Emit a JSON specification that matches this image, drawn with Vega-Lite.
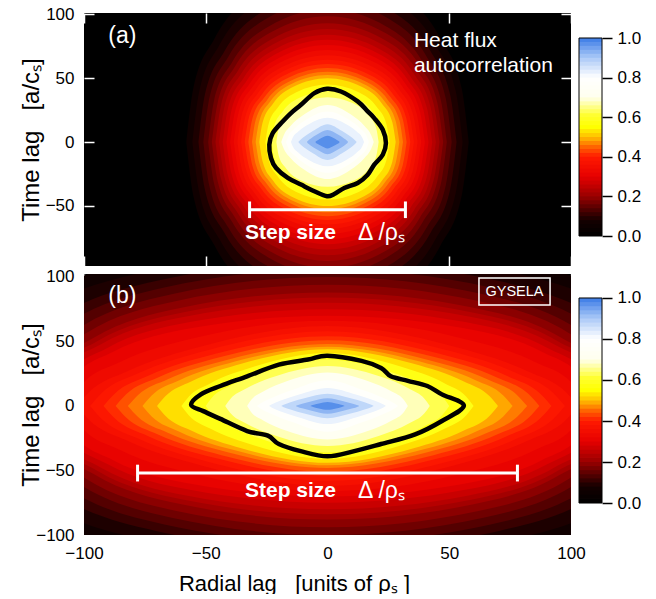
{
  "$schema": "https://vega.github.io/schema/vega-lite/v6.json",
  "padding": {"left": 18, "top": 5, "right": 0, "bottom": 0},
  "background": "white",
  "spacing": 0,
  "data": {"values": [{}]},
  "datasets": {
    "heatA": [
      {"l": 0.0625, "x": [-58,-55.1,-46.4,-29,0,29,46.4,55.1,58], "y": [0,42.1,81,116.9,135,116.9,81,42.1,0], "y2": [0,-42.1,-81,-116.9,-135,-116.9,-81,-42.1,0]},
      {"l": 0.0875, "x": [-55.5,-52.7,-44.4,-27.8,0,27.8,44.4,52.7,55.5], "y": [0,39.5,75.9,109.5,126.5,109.5,75.9,39.5,0], "y2": [0,-39.5,-75.9,-109.5,-126.5,-109.5,-75.9,-39.5,0]},
      {"l": 0.1125, "x": [-53,-50.4,-42.4,-26.5,0,26.5,42.4,50.4,53], "y": [0,36.8,70.8,102.2,118,102.2,70.8,36.8,0], "y2": [0,-36.8,-70.8,-102.2,-118,-102.2,-70.8,-36.8,0]},
      {"l": 0.1375, "x": [-51,-48.5,-40.8,-25.5,0,25.5,40.8,48.5,51], "y": [0,34.6,66.6,96.1,111,96.1,66.6,34.6,0], "y2": [0,-34.6,-66.6,-96.1,-111,-96.1,-66.6,-34.6,0]},
      {"l": 0.1625, "x": [-49,-46.6,-39.2,-24.5,0,24.5,39.2,46.6,49], "y": [0,32.4,62.4,90.1,104,90.1,62.4,32.4,0], "y2": [0,-32.4,-62.4,-90.1,-104,-90.1,-62.4,-32.4,0]},
      {"l": 0.1875, "x": [-47.5,-45.1,-38,-23.8,0,23.8,38,45.1,47.5], "y": [0,30.7,59.1,85.3,98.5,85.3,59.1,30.7,0], "y2": [0,-30.7,-59.1,-85.3,-98.5,-85.3,-59.1,-30.7,0]},
      {"l": 0.2125, "x": [-46,-43.7,-36.8,-23,0,23,36.8,43.7,46], "y": [0,29,55.8,80.5,93,80.5,55.8,29,0], "y2": [0,-29,-55.8,-80.5,-93,-80.5,-55.8,-29,0]},
      {"l": 0.2375, "x": [-44.5,-42.3,-35.6,-22.3,0,22.3,35.6,42.3,44.5], "y": [0,27.6,53.1,76.6,88.5,76.6,53.1,27.6,0], "y2": [0,-27.6,-53.1,-76.6,-88.5,-76.6,-53.1,-27.6,0]},
      {"l": 0.2625, "x": [-43,-40.9,-34.4,-21.5,0,21.5,34.4,40.9,43], "y": [0,26.2,50.4,72.7,84,72.7,50.4,26.2,0], "y2": [0,-26.2,-50.4,-72.7,-84,-72.7,-50.4,-26.2,0]},
      {"l": 0.2875, "x": [-41.5,-39.4,-33.2,-20.8,0,20.8,33.2,39.4,41.5], "y": [0,25,48,69.3,80,69.3,48,25,0], "y2": [0,-25,-48,-69.3,-80,-69.3,-48,-25,0]},
      {"l": 0.3125, "x": [-40,-38,-32,-20,0,20,32,38,40], "y": [0,23.7,45.6,65.8,76,65.8,45.6,23.7,0], "y2": [0,-23.7,-45.6,-65.8,-76,-65.8,-45.6,-23.7,0]},
      {"l": 0.3375, "x": [-38.5,-36.6,-30.8,-19.3,0,19.3,30.8,36.6,38.5], "y": [0,22.5,43.2,62.4,72,62.4,43.2,22.5,0], "y2": [0,-22.5,-43.2,-62.4,-72,-62.4,-43.2,-22.5,0]},
      {"l": 0.3625, "x": [-37,-35.2,-29.6,-18.5,0,18.5,29.6,35.2,37], "y": [0,21.2,40.8,58.9,68,58.9,40.8,21.2,0], "y2": [0,-21.2,-40.8,-58.9,-68,-58.9,-40.8,-21.2,0]},
      {"l": 0.3875, "x": [-35.5,-33.7,-28.4,-17.8,0,17.8,28.4,33.7,35.5], "y": [0,20.1,38.7,55.9,64.5,55.9,38.7,20.1,0], "y2": [0,-20.1,-38.7,-55.9,-64.5,-55.9,-38.7,-20.1,0]},
      {"l": 0.4125, "x": [-34,-32.3,-27.2,-17,0,17,27.2,32.3,34], "y": [0,19,36.6,52.8,61,52.8,36.6,19,0], "y2": [0,-19,-36.6,-52.8,-61,-52.8,-36.6,-19,0]},
      {"l": 0.4375, "x": [-32.5,-30.9,-26,-16.3,0,16.3,26,30.9,32.5], "y": [0,18.1,34.8,50.2,58,50.2,34.8,18.1,0], "y2": [0,-18.1,-34.8,-50.2,-58,-50.2,-34.8,-18.1,0]},
      {"l": 0.4625, "x": [-31,-29.5,-24.8,-15.5,0,15.5,24.8,29.5,31], "y": [0,17.2,33,47.6,55,47.6,33,17.2,0], "y2": [0,-17.2,-33,-47.6,-55,-47.6,-33,-17.2,0]},
      {"l": 0.4875, "x": [-29.5,-28,-23.6,-14.8,0,14.8,23.6,28,29.5], "y": [0,16.4,31.5,45.5,52.5,45.5,31.5,16.4,0], "y2": [0,-16.4,-31.5,-45.5,-52.5,-45.5,-31.5,-16.4,0]},
      {"l": 0.525, "x": [-28,-26.6,-22.4,-14,0,14,22.4,26.6,28], "y": [0,15.6,30,43.3,50,43.3,30,15.6,0], "y2": [0,-15.6,-30,-43.3,-50,-43.3,-30,-15.6,0]},
      {"l": 0.575, "x": [-25.5,-24.2,-20.4,-12.8,0,12.8,20.4,24.2,25.5], "y": [0,14,27,39,45,39,27,14,0], "y2": [0,-14,-27,-39,-45,-39,-27,-14,0]},
      {"l": 0.625, "x": [-23,-21.9,-18.4,-11.5,0,11.5,18.4,21.9,23], "y": [0,12.5,24,34.6,40,34.6,24,12.5,0], "y2": [0,-12.5,-24,-34.6,-40,-34.6,-24,-12.5,0]},
      {"l": 0.675, "x": [-21,-20,-16.8,-10.5,0,10.5,16.8,20,21], "y": [0,10.9,21,30.3,35,30.3,21,10.9,0], "y2": [0,-10.9,-21,-30.3,-35,-30.3,-21,-10.9,0]},
      {"l": 0.725, "x": [-19,-18,-15.2,-9.5,0,9.5,15.2,18,19], "y": [0,5.1,12.5,21.7,29,21.7,12.5,5.1,0], "y2": [0,-5.1,-12.5,-21.7,-29,-21.7,-12.5,-5.1,0]},
      {"l": 0.775, "x": [-17,-16.2,-13.6,-8.5,0,8.5,13.6,16.2,17], "y": [0,4.2,10.4,17.9,24,17.9,10.4,4.2,0], "y2": [0,-4.2,-10.4,-17.9,-24,-17.9,-10.4,-4.2,0]},
      {"l": 0.825, "x": [-15,-14.3,-12,-7.5,0,7.5,12,14.3,15], "y": [0,3.3,8.2,14.2,19,14.2,8.2,3.3,0], "y2": [0,-3.3,-8.2,-14.2,-19,-14.2,-8.2,-3.3,0]},
      {"l": 0.875, "x": [-12,-11.4,-9.6,-6,0,6,9.6,11.4,12], "y": [0,1.3,4.2,8.7,14,8.7,4.2,1.3,0], "y2": [0,-1.3,-4.2,-8.7,-14,-8.7,-4.2,-1.3,0]},
      {"l": 0.925, "x": [-8.5,-8.1,-6.8,-4.3,0,4.3,6.8,8.1,8.5], "y": [0,0.9,2.8,5.9,9.5,5.9,2.8,0.9,0], "y2": [0,-0.9,-2.8,-5.9,-9.5,-5.9,-2.8,-0.9,0]},
      {"l": 0.975, "x": [-5,-4.8,-4,-2.5,0,2.5,4,4.8,5], "y": [0,0.5,1.5,3.1,5,3.1,1.5,0.5,0], "y2": [0,-0.5,-1.5,-3.1,-5,-3.1,-1.5,-0.5,0]}
    ],
    "heatB": [
      {"l": 0.0625, "x": [-160,-152,-128,-80,0,80,128,152,160], "y": [0,39.9,76.8,110.8,128,110.8,76.8,39.9,0], "y2": [0,-39.9,-76.8,-110.8,-128,-110.8,-76.8,-39.9,0]},
      {"l": 0.0875, "x": [-150,-142.5,-120,-75,0,75,120,142.5,150], "y": [0,37.4,72,103.9,120,103.9,72,37.4,0], "y2": [0,-37.4,-72,-103.9,-120,-103.9,-72,-37.4,0]},
      {"l": 0.1125, "x": [-140,-133,-112,-70,0,70,112,133,140], "y": [0,34.9,67.2,97,112,97,67.2,34.9,0], "y2": [0,-34.9,-67.2,-97,-112,-97,-67.2,-34.9,0]},
      {"l": 0.1375, "x": [-134,-127.3,-107.2,-67,0,67,107.2,127.3,134], "y": [0,33.1,63.6,91.8,106,91.8,63.6,33.1,0], "y2": [0,-33.1,-63.6,-91.8,-106,-91.8,-63.6,-33.1,0]},
      {"l": 0.1625, "x": [-128,-121.6,-102.4,-64,0,64,102.4,121.6,128], "y": [0,31.2,60,86.6,100,86.6,60,31.2,0], "y2": [0,-31.2,-60,-86.6,-100,-86.6,-60,-31.2,0]},
      {"l": 0.1875, "x": [-124,-117.8,-99.2,-62,0,62,99.2,117.8,124], "y": [0,29.3,56.4,81.4,94,81.4,56.4,29.3,0], "y2": [0,-29.3,-56.4,-81.4,-94,-81.4,-56.4,-29.3,0]},
      {"l": 0.2125, "x": [-120,-114,-96,-60,0,60,96,114,120], "y": [0,27.5,52.8,76.2,88,76.2,52.8,27.5,0], "y2": [0,-27.5,-52.8,-76.2,-88,-76.2,-52.8,-27.5,0]},
      {"l": 0.2375, "x": [-118,-112.1,-94.4,-59,0,59,94.4,112.1,118], "y": [0,26.2,50.4,72.7,84,72.7,50.4,26.2,0], "y2": [0,-26.2,-50.4,-72.7,-84,-72.7,-50.4,-26.2,0]},
      {"l": 0.2625, "x": [-116,-110.2,-92.8,-58,0,58,92.8,110.2,116], "y": [0,25,48,69.3,80,69.3,48,25,0], "y2": [0,-25,-48,-69.3,-80,-69.3,-48,-25,0]},
      {"l": 0.2875, "x": [-113,-107.4,-90.4,-56.5,0,56.5,90.4,107.4,113], "y": [0,23.4,45,65,75,65,45,23.4,0], "y2": [0,-23.4,-45,-65,-75,-65,-45,-23.4,0]},
      {"l": 0.3125, "x": [-110,-104.5,-88,-55,0,55,88,104.5,110], "y": [0,21.8,42,60.6,70,60.6,42,21.8,0], "y2": [0,-21.8,-42,-60.6,-70,-60.6,-42,-21.8,0]},
      {"l": 0.3375, "x": [-106.5,-101.2,-85.2,-53.3,0,53.3,85.2,101.2,106.5], "y": [0,16.1,34.1,53.3,66,53.3,34.1,16.1,0], "y2": [0,-16.1,-34.1,-53.3,-66,-53.3,-34.1,-16.1,0]},
      {"l": 0.3625, "x": [-103,-97.9,-82.4,-51.5,0,51.5,82.4,97.9,103], "y": [0,10.9,26.8,46.3,62,46.3,26.8,10.9,0], "y2": [0,-10.9,-26.8,-46.3,-62,-46.3,-26.8,-10.9,0]},
      {"l": 0.3875, "x": [-97.5,-92.6,-78,-48.8,0,48.8,78,92.6,97.5], "y": [0,10.2,25.1,43.4,58,43.4,25.1,10.2,0], "y2": [0,-10.2,-25.1,-43.4,-58,-43.4,-25.1,-10.2,0]},
      {"l": 0.4125, "x": [-92,-87.4,-73.6,-46,0,46,73.6,87.4,92], "y": [0,9.5,23.4,40.4,54,40.4,23.4,9.5,0], "y2": [0,-9.5,-23.4,-40.4,-54,-40.4,-23.4,-9.5,0]},
      {"l": 0.4375, "x": [-87,-82.7,-69.6,-43.5,0,43.5,69.6,82.7,87], "y": [0,9,22.1,38.1,51,38.1,22.1,9,0], "y2": [0,-9,-22.1,-38.1,-51,-38.1,-22.1,-9,0]},
      {"l": 0.4625, "x": [-82,-77.9,-65.6,-41,0,41,65.6,77.9,82], "y": [0,8.4,20.8,35.9,48,35.9,20.8,8.4,0], "y2": [0,-8.4,-20.8,-35.9,-48,-35.9,-20.8,-8.4,0]},
      {"l": 0.4875, "x": [-76,-72.2,-60.8,-38,0,38,60.8,72.2,76], "y": [0,8.1,19.9,34.4,46,34.4,19.9,8.1,0], "y2": [0,-8.1,-19.9,-34.4,-46,-34.4,-19.9,-8.1,0]},
      {"l": 0.525, "x": [-70,-66.5,-56,-35,0,35,56,66.5,70], "y": [0,7.7,19,32.9,44,32.9,19,7.7,0], "y2": [0,-7.7,-19,-32.9,-44,-32.9,-19,-7.7,0]},
      {"l": 0.575, "x": [-60,-57,-48,-30,0,30,48,57,60], "y": [0,7.2,17.7,30.6,41,30.6,17.7,7.2,0], "y2": [0,-7.2,-17.7,-30.6,-41,-30.6,-17.7,-7.2,0]},
      {"l": 0.625, "x": [-50,-47.5,-40,-25,0,25,40,47.5,50], "y": [0,6.3,15.6,26.9,36,26.9,15.6,6.3,0], "y2": [0,-6.3,-15.6,-26.9,-36,-26.9,-15.6,-6.3,0]},
      {"l": 0.675, "x": [-42,-39.9,-33.6,-21,0,21,33.6,39.9,42], "y": [0,5.5,13.4,23.2,31,23.2,13.4,5.5,0], "y2": [0,-5.5,-13.4,-23.2,-31,-23.2,-13.4,-5.5,0]},
      {"l": 0.725, "x": [-33,-31.4,-26.4,-16.5,0,16.5,26.4,31.4,33], "y": [0,4.6,11.2,19.4,26,19.4,11.2,4.6,0], "y2": [0,-4.6,-11.2,-19.4,-26,-19.4,-11.2,-4.6,0]},
      {"l": 0.775, "x": [-29,-27.6,-23.2,-14.5,0,14.5,23.2,27.6,29], "y": [0,1.9,6,12.4,20,12.4,6,1.9,0], "y2": [0,-1.9,-6,-12.4,-20,-12.4,-6,-1.9,0]},
      {"l": 0.825, "x": [-24,-22.8,-19.2,-12,0,12,19.2,22.8,24], "y": [0,1.3,4.2,8.7,14,8.7,4.2,1.3,0], "y2": [0,-1.3,-4.2,-8.7,-14,-8.7,-4.2,-1.3,0]},
      {"l": 0.875, "x": [-19,-18,-15.2,-9.5,0,9.5,15.2,18,19], "y": [0,0.9,2.8,5.9,9.5,5.9,2.8,0.9,0], "y2": [0,-0.9,-2.8,-5.9,-9.5,-5.9,-2.8,-0.9,0]},
      {"l": 0.925, "x": [-13,-12.4,-10.4,-6.5,0,6.5,10.4,12.4,13], "y": [0,0.6,1.8,3.7,6,3.7,1.8,0.6,0], "y2": [0,-0.6,-1.8,-3.7,-6,-3.7,-1.8,-0.6,0]},
      {"l": 0.975, "x": [-7,-6.7,-5.6,-3.5,0,3.5,5.6,6.7,7], "y": [0,0.3,0.9,1.9,3,1.9,0.9,0.3,0], "y2": [0,-0.3,-0.9,-1.9,-3,-1.9,-0.9,-0.3,0]}
    ],
    "contA": [
      {"x": [-0.2,5.5,12.4,16.5,19.2,22.7,24,22.7,19.2,16.5,12.4,6.9,2.8,-0.2,-5.4,-10.9,-16.3,-21.1,-23.2,-23.9,-22.5,-18.4,-15,-10.9,-5.4],
       "y": [41.7,39.6,31.8,24,18.75,9.6,-0.8,-9.9,-17.7,-25.5,-32,-36,-40.6,-42.4,-38.5,-33.3,-28.1,-20.3,-12.5,-2.1,7,16.1,22.7,29.2,38.3],
       "i": [0,1,2,3,4,5,6,7,8,9,10,11,12,13,14,15,16,17,18,19,20,21,22,23,24]}
    ],
    "contB": [
      {"x": [-56,-52,-44,-33,-20,-8,0,14,22,26,33,41,47,56,47,36,22,11,0,-11,-20,-24.5,-33,-44,-51],
       "y": [0.8,9,15.5,23,32,36,39,35,29.5,23,19.5,15.5,9,0.3,-11.6,-22,-29.5,-35,-39,-35,-29.5,-23,-19.4,-10,-4],
       "i": [0,1,2,3,4,5,6,7,8,9,10,11,12,13,14,15,16,17,18,19,20,21,22,23,24]}
    ],
    "bar": [
      {"a":0,"b":0.024,"c":0.01},{"a":0.02,"b":0.044,"c":0.03},{"a":0.04,"b":0.064,"c":0.05},{"a":0.06,"b":0.084,"c":0.07},{"a":0.08,"b":0.104,"c":0.09},
      {"a":0.1,"b":0.124,"c":0.11},{"a":0.12,"b":0.144,"c":0.13},{"a":0.14,"b":0.164,"c":0.15},{"a":0.16,"b":0.184,"c":0.17},{"a":0.18,"b":0.204,"c":0.19},
      {"a":0.2,"b":0.224,"c":0.21},{"a":0.22,"b":0.244,"c":0.23},{"a":0.24,"b":0.264,"c":0.25},{"a":0.26,"b":0.284,"c":0.27},{"a":0.28,"b":0.304,"c":0.29},
      {"a":0.3,"b":0.324,"c":0.31},{"a":0.32,"b":0.344,"c":0.33},{"a":0.34,"b":0.364,"c":0.35},{"a":0.36,"b":0.384,"c":0.37},{"a":0.38,"b":0.404,"c":0.39},
      {"a":0.4,"b":0.424,"c":0.41},{"a":0.42,"b":0.444,"c":0.43},{"a":0.44,"b":0.464,"c":0.45},{"a":0.46,"b":0.484,"c":0.47},{"a":0.48,"b":0.504,"c":0.49},
      {"a":0.5,"b":0.524,"c":0.51},{"a":0.52,"b":0.544,"c":0.53},{"a":0.54,"b":0.564,"c":0.55},{"a":0.56,"b":0.584,"c":0.57},{"a":0.58,"b":0.604,"c":0.59},
      {"a":0.6,"b":0.624,"c":0.61},{"a":0.62,"b":0.644,"c":0.63},{"a":0.64,"b":0.664,"c":0.65},{"a":0.66,"b":0.684,"c":0.67},{"a":0.68,"b":0.704,"c":0.69},
      {"a":0.7,"b":0.724,"c":0.71},{"a":0.72,"b":0.744,"c":0.73},{"a":0.74,"b":0.764,"c":0.75},{"a":0.76,"b":0.784,"c":0.77},{"a":0.78,"b":0.804,"c":0.79},
      {"a":0.8,"b":0.824,"c":0.81},{"a":0.82,"b":0.844,"c":0.83},{"a":0.84,"b":0.864,"c":0.85},{"a":0.86,"b":0.884,"c":0.87},{"a":0.88,"b":0.904,"c":0.89},
      {"a":0.9,"b":0.924,"c":0.91},{"a":0.92,"b":0.944,"c":0.93},{"a":0.94,"b":0.964,"c":0.95},{"a":0.96,"b":0.984,"c":0.97},{"a":0.98,"b":1,"c":0.99}
    ]
  },
  "vconcat": [
    {
      "spacing": 8,
      "bounds": "flush",
      "hconcat": [
        {
          "width": 487,
          "height": 253,
          "view": {"fill": "black", "stroke": null},
          "layer": [
            {
              "data": {"name": "heatA"},
              "transform": [{"flatten": ["x", "y", "y2"]}],
              "mark": {"type": "area", "interpolate": "monotone", "clip": true},
              "encoding": {
                "x": {"field": "x", "type": "quantitative", "scale": {"domain": [-100, 100], "nice": false, "zero": false},
                      "axis": {"orient": "bottom", "values": [-100, -50, 0, 50, 100], "labels": false, "title": null}},
                "y": {"field": "y", "type": "quantitative", "stack": null, "scale": {"domain": [-97, 101], "nice": false, "zero": false},
                      "axis": {"orient": "left", "values": [-50, 0, 50, 100], "title": "Time lag\u00a0\u00a0\u00a0[a/cₛ]", "titleX": -53, "titleY": 126.5, "titleBaseline": "middle"}},
                "y2": {"field": "y2"},
                "color": {"field": "l", "type": "quantitative", "legend": null,
                          "scale": {"type": "linear", "interpolate": "rgb",
                                    "domain": [0, 0.08, 0.2, 0.3, 0.4, 0.45, 0.5, 0.55, 0.61, 0.7, 0.8, 0.9, 1],
                                    "range": ["#000000", "#150000", "#990000", "#e60000", "#ff1a00", "#ff6400", "#ffbe00", "#ffff00", "#ffff30", "#ffffee", "#ffffff", "#aac9f7", "#3b7be6"]}}
              }
            },
            {
              "data": {"name": "contA"},
              "transform": [{"flatten": ["x", "y", "i"]}],
              "mark": {"type": "line", "interpolate": "cardinal-closed", "color": "black", "strokeWidth": 4.5, "clip": true},
              "encoding": {
                "x": {"field": "x", "type": "quantitative", "axis": {"orient": "top", "values": [-100, -50, 0, 50, 100], "labels": false, "title": null}},
                "y": {"field": "y", "type": "quantitative", "axis": {"orient": "right", "values": [-50, 0, 50, 100], "labels": false, "title": null}},
                "order": {"field": "i"}
              }
            },
            {
              "mark": {"type": "text", "text": "(a)", "color": "white", "fontSize": 23, "align": "left", "baseline": "middle"},
              "encoding": {"x": {"datum": -90, "type": "quantitative", "axis": null}, "y": {"datum": 83, "type": "quantitative", "axis": null}}
            },
            {
              "mark": {"type": "text", "text": "Heat flux", "color": "white", "fontSize": 21, "align": "left", "baseline": "middle"},
              "encoding": {"x": {"datum": 35.5, "type": "quantitative", "axis": null}, "y": {"datum": 79, "type": "quantitative", "axis": null}}
            },
            {
              "mark": {"type": "text", "text": "autocorrelation", "color": "white", "fontSize": 21, "align": "left", "baseline": "middle"},
              "encoding": {"x": {"datum": 35.5, "type": "quantitative", "axis": null}, "y": {"datum": 59.4, "type": "quantitative", "axis": null}}
            },
            {
              "mark": {"type": "rule", "color": "white", "strokeWidth": 3},
              "encoding": {"x": {"datum": -32, "type": "quantitative", "axis": null}, "x2": {"datum": 32}, "y": {"datum": -53, "type": "quantitative", "axis": null}}
            },
            {
              "mark": {"type": "rule", "color": "white", "strokeWidth": 3},
              "encoding": {"x": {"datum": -32, "type": "quantitative", "axis": null}, "y": {"datum": -59.5, "type": "quantitative", "axis": null}, "y2": {"datum": -46.5}}
            },
            {
              "mark": {"type": "rule", "color": "white", "strokeWidth": 3},
              "encoding": {"x": {"datum": 32, "type": "quantitative", "axis": null}, "y": {"datum": -59.5, "type": "quantitative", "axis": null}, "y2": {"datum": -46.5}}
            },
            {
              "mark": {"type": "text", "text": "Step size", "color": "white", "fontSize": 21, "fontWeight": "bold", "align": "right", "baseline": "middle"},
              "encoding": {"x": {"datum": 3.5, "type": "quantitative", "axis": null}, "y": {"datum": -71, "type": "quantitative", "axis": null}}
            },
            {
              "mark": {"type": "text", "text": "Δ /ρₛ", "color": "white", "fontSize": 23, "align": "left", "baseline": "middle"},
              "encoding": {"x": {"datum": 12.5, "type": "quantitative", "axis": null}, "y": {"datum": -71, "type": "quantitative", "axis": null}}
            }
          ],
          "resolve": {"axis": {"x": "independent", "y": "independent"}}
        },
        {
          "width": 23,
          "height": 253,
          "view": {"fill": "white", "stroke": null},
          "layer": [
            {
              "data": {"name": "bar"},
              "mark": {"type": "rect"},
              "encoding": {
                "x": {"datum": 0, "type": "quantitative", "scale": {"domain": [0, 1], "nice": false}, "axis": null},
                "x2": {"datum": 1},
                "y": {"field": "a", "type": "quantitative", "scale": {"domain": [-0.1515, 1.1263], "nice": false, "zero": false},
                      "axis": {"orient": "right", "values": [0, 0.2, 0.4, 0.6, 0.8, 1], "format": ".1f", "title": null,
                               "tickColor": "black", "tickSize": 10, "tickWidth": 1.5, "labelPadding": 5}},
                "y2": {"field": "b"},
                "color": {"field": "c", "type": "quantitative", "legend": null,
                          "scale": {"type": "linear", "interpolate": "rgb",
                                    "domain": [0, 0.08, 0.2, 0.3, 0.4, 0.45, 0.5, 0.55, 0.61, 0.7, 0.8, 0.9, 1],
                                    "range": ["#000000", "#150000", "#990000", "#e60000", "#ff1a00", "#ff6400", "#ffbe00", "#ffff00", "#ffff30", "#ffffee", "#ffffff", "#aac9f7", "#3b7be6"]}}
              }
            },
            {
              "mark": {"type": "rect", "fill": null, "fillOpacity": 0, "stroke": "black", "strokeWidth": 1},
              "encoding": {"x": {"datum": 0, "type": "quantitative"}, "x2": {"datum": 1}, "y": {"datum": 0, "type": "quantitative"}, "y2": {"datum": 1}}
            }
          ]
        }
      ]
    },
    {
      "spacing": 8,
      "bounds": "flush",
      "hconcat": [
        {
          "width": 487,
          "height": 261,
          "view": {"fill": "black", "stroke": null},
          "layer": [
            {
              "data": {"name": "heatB"},
              "transform": [{"flatten": ["x", "y", "y2"]}],
              "mark": {"type": "area", "interpolate": "monotone", "clip": true},
              "encoding": {
                "x": {"field": "x", "type": "quantitative", "scale": {"domain": [-100, 100], "nice": false, "zero": false},
                      "axis": {"orient": "bottom", "values": [-100, -50, 0, 50, 100], "title": "Radial lag\u00a0\u00a0\u00a0[units of ρₛ\u00a0]",
                               "titleFontSize": 22, "titleX": 210, "titleY": 38, "titleBaseline": "top", "titleAlign": "center"}},
                "y": {"field": "y", "type": "quantitative", "stack": null, "scale": {"domain": [-100, 102.3], "nice": false, "zero": false},
                      "axis": {"orient": "left", "values": [-100, -50, 0, 50, 100], "title": "Time lag\u00a0\u00a0\u00a0[a/cₛ]", "titleX": -53, "titleY": 130.5, "titleBaseline": "middle"}},
                "y2": {"field": "y2"},
                "color": {"field": "l", "type": "quantitative", "legend": null,
                          "scale": {"type": "linear", "interpolate": "rgb",
                                    "domain": [0, 0.08, 0.2, 0.3, 0.4, 0.45, 0.5, 0.55, 0.61, 0.7, 0.8, 0.9, 1],
                                    "range": ["#000000", "#150000", "#990000", "#e60000", "#ff1a00", "#ff6400", "#ffbe00", "#ffff00", "#ffff30", "#ffffee", "#ffffff", "#aac9f7", "#3b7be6"]}}
              }
            },
            {
              "data": {"name": "contB"},
              "transform": [{"flatten": ["x", "y", "i"]}],
              "mark": {"type": "line", "interpolate": "cardinal-closed", "color": "black", "strokeWidth": 4.5, "clip": true},
              "encoding": {
                "x": {"field": "x", "type": "quantitative", "axis": {"orient": "top", "values": [-100, -50, 0, 50, 100], "labels": false, "title": null}},
                "y": {"field": "y", "type": "quantitative", "axis": {"orient": "right", "values": [-100, -50, 0, 50, 100], "labels": false, "title": null}},
                "order": {"field": "i"}
              }
            },
            {
              "mark": {"type": "text", "text": "(b)", "color": "white", "fontSize": 23, "align": "left", "baseline": "middle"},
              "encoding": {"x": {"datum": -90, "type": "quantitative", "axis": null}, "y": {"datum": 85.3, "type": "quantitative", "axis": null}}
            },
            {
              "mark": {"type": "rect", "fill": null, "fillOpacity": 0, "stroke": "white", "strokeWidth": 1.5},
              "encoding": {"x": {"datum": 62.2, "type": "quantitative", "axis": null}, "x2": {"datum": 91.4}, "y": {"datum": 78.3, "type": "quantitative", "axis": null}, "y2": {"datum": 99.2}}
            },
            {
              "mark": {"type": "text", "text": "GYSELA", "color": "white", "fontSize": 14.5, "align": "center", "baseline": "middle"},
              "encoding": {"x": {"datum": 76.8, "type": "quantitative", "axis": null}, "y": {"datum": 88.7, "type": "quantitative", "axis": null}}
            },
            {
              "mark": {"type": "rule", "color": "white", "strokeWidth": 3},
              "encoding": {"x": {"datum": -78, "type": "quantitative", "axis": null}, "x2": {"datum": 78}, "y": {"datum": -52, "type": "quantitative", "axis": null}}
            },
            {
              "mark": {"type": "rule", "color": "white", "strokeWidth": 3},
              "encoding": {"x": {"datum": -78, "type": "quantitative", "axis": null}, "y": {"datum": -58.5, "type": "quantitative", "axis": null}, "y2": {"datum": -45.5}}
            },
            {
              "mark": {"type": "rule", "color": "white", "strokeWidth": 3},
              "encoding": {"x": {"datum": 78, "type": "quantitative", "axis": null}, "y": {"datum": -58.5, "type": "quantitative", "axis": null}, "y2": {"datum": -45.5}}
            },
            {
              "mark": {"type": "text", "text": "Step size", "color": "white", "fontSize": 21, "fontWeight": "bold", "align": "right", "baseline": "middle"},
              "encoding": {"x": {"datum": 3.5, "type": "quantitative", "axis": null}, "y": {"datum": -66, "type": "quantitative", "axis": null}}
            },
            {
              "mark": {"type": "text", "text": "Δ /ρₛ", "color": "white", "fontSize": 23, "align": "left", "baseline": "middle"},
              "encoding": {"x": {"datum": 12.5, "type": "quantitative", "axis": null}, "y": {"datum": -66, "type": "quantitative", "axis": null}}
            }
          ],
          "resolve": {"axis": {"x": "independent", "y": "independent"}}
        },
        {
          "width": 23,
          "height": 261,
          "view": {"fill": "white", "stroke": null},
          "layer": [
            {
              "data": {"name": "bar"},
              "mark": {"type": "rect"},
              "encoding": {
                "x": {"datum": 0, "type": "quantitative", "scale": {"domain": [0, 1], "nice": false}, "axis": null},
                "x2": {"datum": 1},
                "y": {"field": "a", "type": "quantitative", "scale": {"domain": [-0.156, 1.117], "nice": false, "zero": false},
                      "axis": {"orient": "right", "values": [0, 0.2, 0.4, 0.6, 0.8, 1], "format": ".1f", "title": null,
                               "tickColor": "black", "tickSize": 10, "tickWidth": 1.5, "labelPadding": 5}},
                "y2": {"field": "b"},
                "color": {"field": "c", "type": "quantitative", "legend": null,
                          "scale": {"type": "linear", "interpolate": "rgb",
                                    "domain": [0, 0.08, 0.2, 0.3, 0.4, 0.45, 0.5, 0.55, 0.61, 0.7, 0.8, 0.9, 1],
                                    "range": ["#000000", "#150000", "#990000", "#e60000", "#ff1a00", "#ff6400", "#ffbe00", "#ffff00", "#ffff30", "#ffffee", "#ffffff", "#aac9f7", "#3b7be6"]}}
              }
            },
            {
              "mark": {"type": "rect", "fill": null, "fillOpacity": 0, "stroke": "black", "strokeWidth": 1},
              "encoding": {"x": {"datum": 0, "type": "quantitative"}, "x2": {"datum": 1}, "y": {"datum": 0, "type": "quantitative"}, "y2": {"datum": 1}}
            }
          ]
        }
      ]
    }
  ],
  "resolve": {"scale": {"color": "shared"}},
  "config": {
    "font": "Liberation Sans",
    "view": {"stroke": null},
    "axis": {"labelFont": "Liberation Sans", "labelFontSize": 17, "labelColor": "black", "titleFont": "Liberation Sans", "titleFontSize": 24,
             "titleFontWeight": "normal", "titleColor": "black", "tickColor": "white", "tickWidth": 1.5, "tickSize": -10, "labelPadding": 20,
             "domain": false, "grid": false, "labelFlush": false}
  }
}
